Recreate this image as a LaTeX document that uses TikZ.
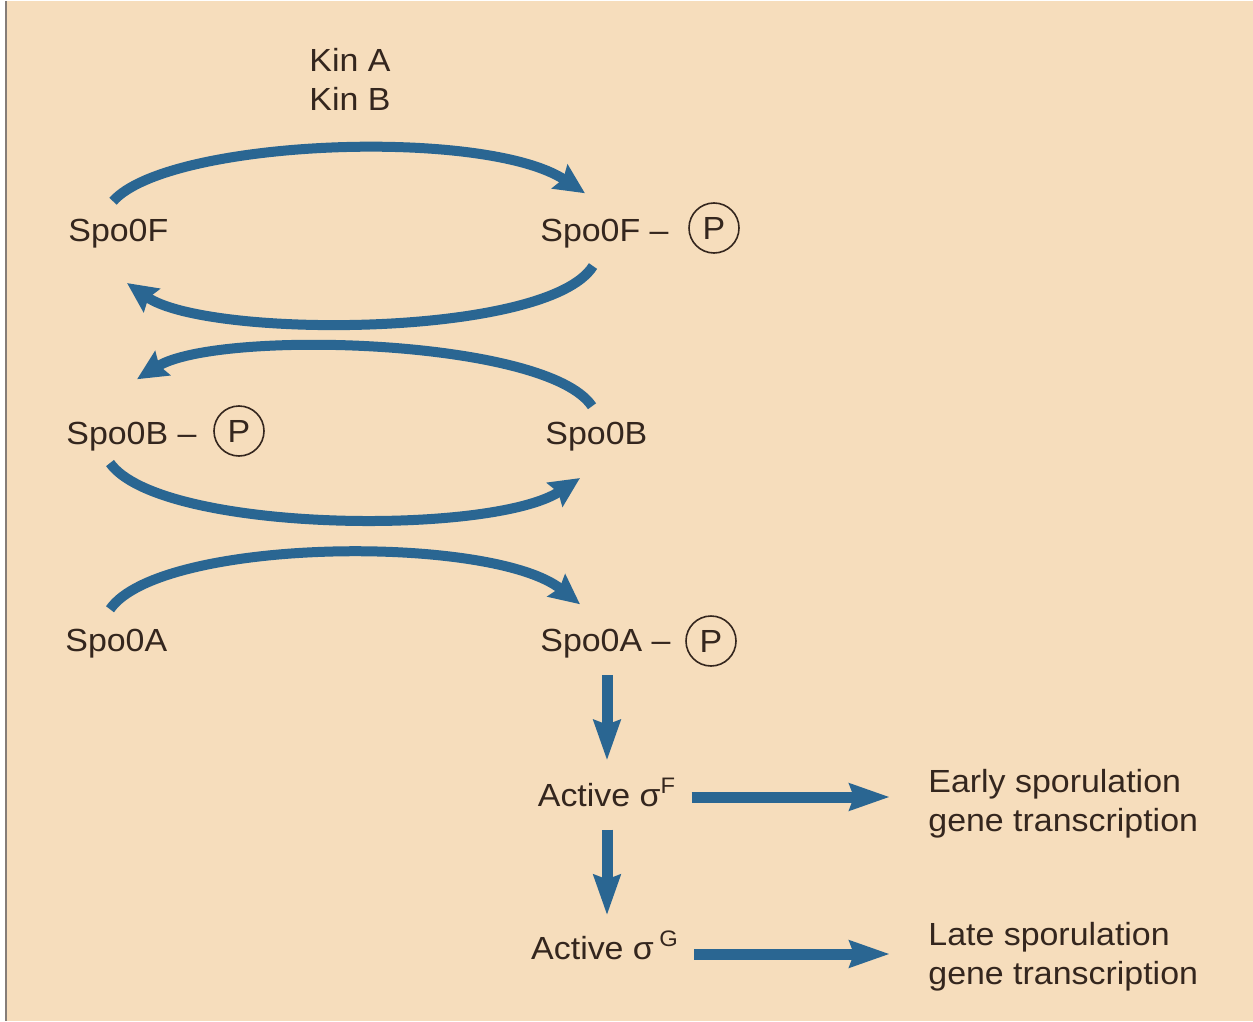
\documentclass[tikz,border=0pt]{standalone}
\usepackage{fontspec}
\setmainfont{Liberation Sans}[FakeStretch=1.06]
\usetikzlibrary{arrows.meta,calc}
\definecolor{paper}{RGB}{246,221,188}
\definecolor{ink}{RGB}{52,38,30}
\definecolor{flow}{RGB}{42,102,146}
\begin{document}
\begin{tikzpicture}[x=0.5pt,y=-0.5pt,
  lbl/.style={inner sep=0pt, text=ink, font=\fontsize{16}{19.5}\selectfont},
  phos/.style={circle, draw=ink, line width=0.8pt, minimum size=25pt, inner sep=0pt,
               text=ink, font=\fontsize{16}{19.5}\selectfont},
  arc/.style={draw=flow, line width=5pt, -{Stealth[length=15pt,width=14pt,inset=2pt]}},
  bar/.style={draw=flow, line width=5.5pt, -{Stealth[length=20pt,width=13pt,inset=2pt]}},
]
% page
\fill[paper] (0,0) rectangle (1253,1020);
\fill[white] (0,0) rectangle (5,1020);
\draw[ink!60, line width=1pt] (6,0) -- (6,1020);

% kinases
\node[lbl, anchor=base] (kinA) at (350,71) {Kin A};
\node[lbl, anchor=base] (kinB) at (350,110) {Kin B};

% phosphorelay components
\node[lbl, anchor=base west] (spoF)  at (68,240)  {Spo0F};
\node[lbl, anchor=base west] (spoFP) at (540,240) {Spo0F –};
\node[phos] (pF) at (714,227) {P};
\node[lbl, anchor=base west] (spoBP) at (66,443)  {Spo0B –};
\node[phos] (pB) at (239,430) {P};
\node[lbl, anchor=base west] (spoB)  at (545,443) {Spo0B};
\node[lbl, anchor=base west] (spoA)  at (65,650)  {Spo0A};
\node[lbl, anchor=base west] (spoAP) at (540,650) {Spo0A –};
\node[phos] (pA) at (711,640) {P};

% sigma factors and outputs
\node[lbl, anchor=base] (actF) at (607,805) {Active σ\textsuperscript{F}};
\node[lbl, anchor=base] (actG) at (605,958) {Active σ\,\textsuperscript{G}};
\node[lbl, anchor=north west, align=left] (early) at (928,768) {Early sporulation\\gene transcription};
\node[lbl, anchor=north west, align=left] (late)  at (928,921) {Late sporulation\\gene transcription};

% phosphate transfer arcs
\draw[arc] ([shift={(45,-17)}]spoF.north west)
  .. controls +(55,-62) and +(-100,-66) .. ([shift={(45,-25)}]spoFP.north west);
\draw[arc] ([shift={(53,18)}]spoFP.south west)
  .. controls +(-45,72) and +(80,56) .. ([shift={(59,35)}]spoF.south west);
\draw[arc] ([shift={(47,-15)}]spoB.north west)
  .. controls +(-45,-68) and +(80,-50) .. ([shift={(71,-42)}]spoBP.north west);
\draw[arc] ([shift={(44,12)}]spoBP.south west)
  .. controls +(50,70) and +(-88,58) .. ([shift={(35,27)}]spoB.south west);
\draw[arc] ([shift={(45,-19)}]spoA.north west)
  .. controls +(50,-72) and +(-88,-70) .. ([shift={(40,-24)}]spoAP.north west);

% cascade
\draw[bar] ($(actF.north |- spoAP.south)+(0,17)$) -- ($(actF.north)+(0,-17)$);
\draw[bar] ($(actF.south)+(0,23)$) -- ($(actF.south |- actG.north)+(0,-15)$);
\draw[bar] ([shift={(15,-9)}]actF.base east) -- ($(early.west |- actF.base)+(-38,-9)$);
\draw[bar] ([shift={(15,-5)}]actG.base east) -- ($(late.west |- actG.base)+(-38,-5)$);
\end{tikzpicture}
\end{document}
